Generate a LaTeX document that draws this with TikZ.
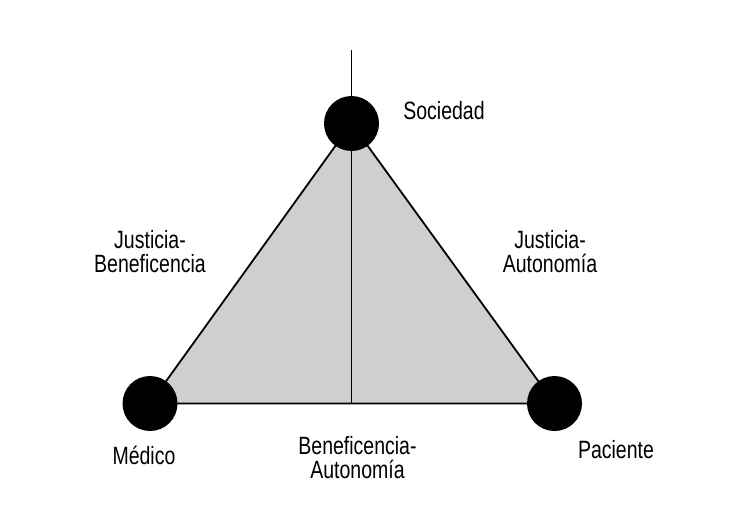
\documentclass[tikz,border=0pt]{standalone}
\usepackage{fontspec}
\setmainfont[FakeStretch=0.78]{Liberation Sans}
\begin{document}
\begin{tikzpicture}[x=1pt,y=-1pt,
  dot/.style={circle,fill=black,draw=none,minimum size=55pt,inner sep=0pt},
  lbl/.style={font=\fontsize{25}{24}\selectfont,align=center,inner sep=0pt,text=black},
  edge/.style={draw=black,line width=1.8pt},
  axis/.style={draw=black,line width=0.8pt}]
\useasboundingbox[fill=white] (0,0) rectangle (730,522);
\coordinate (s) at (351.5,123.5);
\coordinate (m) at (150,403.5);
\coordinate (p) at (554.5,403.5);
\coordinate (topend) at (351.5,50);
\fill[gray!38] (s) -- (m) -- (p) -- cycle;
\draw[axis] (topend) -- (s |- m);
\draw[edge] (s) -- (m) -- (p) -- cycle;
\node[dot] (S) at (s) {};
\node[dot] (M) at (m) {};
\node[dot] (P) at (p) {};
\node[lbl] (tS) at (444,111) {Sociedad};
\node[lbl] (tM) at (144,455) {Médico};
\node[lbl] (tP) at (616,450) {Paciente};
\node[lbl] (tJB) at (150,251.5) {Justicia-\\Beneficencia};
\node[lbl] (tJA) at (550,251.5) {Justicia-\\Autonomía};
\node[lbl] (tBA) at (357.5,457.5) {Beneficencia-\\Autonomía};
\end{tikzpicture}
\end{document}
